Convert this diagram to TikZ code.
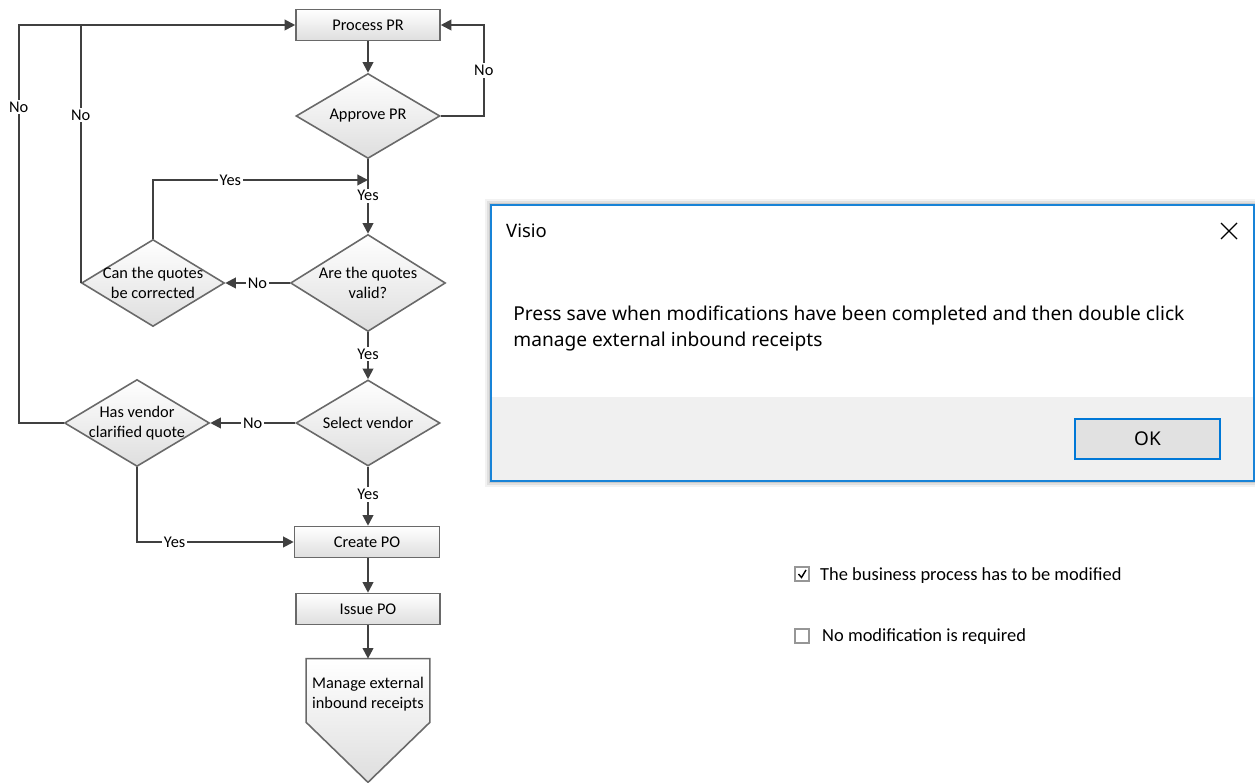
\documentclass[tikz,border=0pt]{standalone}
\usepackage{fontspec}
\setmainfont{Carlito}
\newfontfamily\dlgfont{Noto Sans}
\usetikzlibrary{shapes.geometric,arrows.meta,positioning,calc}
\definecolor{flowgray}{RGB}{64,64,64}
\definecolor{edgegray}{RGB}{105,105,105}
\definecolor{shadegray}{RGB}{222,222,222}
\definecolor{winblue}{RGB}{24,131,215}
\definecolor{btnblue}{RGB}{0,120,215}
\definecolor{panelgray}{RGB}{240,240,240}
\definecolor{btngray}{RGB}{225,225,225}
\definecolor{boxgray}{RGB}{150,150,150}

\tikzset{
  procbox/.style={rectangle, draw=edgegray, line width=0.9pt, top color=white, bottom color=shadegray,
    minimum width=2.88cm, minimum height=0.62cm, inner sep=0pt, font=\fontsize{9.3}{11.3}\selectfont},
  decision/.style={diamond, draw=edgegray, line width=0.9pt, top color=white, bottom color=shadegray,
    inner sep=-8pt, align=center, font=\fontsize{9.3}{11.3}\selectfont},
  flow/.style={draw=flowgray, line width=1.1pt, -{Triangle[length=6pt,width=6pt]}},
  link/.style={draw=flowgray, line width=1.1pt},
  lbl/.style={fill=white, inner sep=1pt, font=\fontsize{9.3}{11.3}\selectfont}
}

\begin{document}
\begin{tikzpicture}[x=0.02cm, y=-0.02cm]
    % page
    \path[use as bounding box, fill=white] (0,0) rectangle (1255,783);

    % flowchart shapes
    \node[procbox] (process) at (368,25) {Process PR};
    \node[decision, minimum width=2.88cm, minimum height=1.7cm] (approve) at (368,116) {Approve PR};
    \node[decision, minimum width=3.1cm, minimum height=1.94cm] (valid) at (368,283) {Are the quotes\\valid?};
    \node[decision, minimum width=2.86cm, minimum height=1.74cm] (correct) at (153,283) {Can the quotes\\be corrected};
    \node[decision, minimum width=2.88cm, minimum height=1.72cm] (vendor) at (368,423) {Select vendor};
    \node[decision, minimum width=2.9cm, minimum height=1.74cm] (clarify) at (137,423) {Has vendor\\clarified quote};
    \node[procbox, minimum width=2.9cm] (create) at (367,542) {Create PO};
    \node[procbox] (issue) at (368,609) {Issue PO};
    \node[rectangle, minimum width=2.46cm, minimum height=1.26cm, inner sep=0pt] (manage) at (368,690.5) {};
    \draw[edgegray, line width=0.9pt, top color=white, bottom color=shadegray]
        (manage.north west) -- (manage.north east) -- (manage.south east)
        -- ($(manage.south)+(0,60)$) -- (manage.south west) -- cycle;
    \node[align=center, font=\fontsize{9.3}{11.3}\selectfont] (managetxt) at (368,694) {Manage external\\inbound receipts};

    % connectors
    \coordinate (merge) at (368,180);
    \draw[flow] (process) -- (approve);
    \draw[flow] (approve.east) -- ++(43,0) |- node[lbl, pos=0.25] {No} (process.east);
    \draw[flow] (approve.south) -- node[lbl, pos=0.49] {Yes} (valid.north);
    \draw[flow] (correct.north) |- node[lbl, pos=0.68] {Yes} (merge);
    \draw[flow] (valid.west) -- node[lbl] {No} (correct.east);
    \draw[link] (correct.west) -- node[lbl, pos=0.65] {No} (correct.west |- process.west);
    \draw[flow] (valid.south) -- node[lbl, pos=0.46] {Yes} (vendor.north);
    \draw[flow] (vendor.west) -- node[lbl] {No} (clarify.east);
    \draw[flow] (clarify.west) -- ++(-45,0) |- node[lbl, pos=0.397] {No} (process.west);
    \draw[flow] (vendor.south) -- node[lbl, pos=0.47] {Yes} (vendor.south |- create.north);
    \draw[flow] (clarify.south) |- node[lbl, pos=0.62] {Yes} (create.west);
    \draw[flow] (create.south -| issue.north) -- (issue.north);
    \draw[flow] (issue.south) -- (manage.north);

    % message box
    \foreach \s/\o in {6/0.05,4/0.07,2/0.1} {
        \fill[black, opacity=\o] (491-\s,205-\s) rectangle (1255,481+\s);
    }
    \draw[winblue, fill=white, line width=0.8pt] (491,205) rectangle (1254,481);
    \fill[panelgray] (491.8,397) rectangle (1253.2,480.2);
    \node[anchor=west, font=\dlgfont\fontsize{10.5}{13}\selectfont] (title) at (500,231) {Visio};
    \node (closebtn) at (1229,231) {};
    \draw[black, line width=0.7pt] ($(closebtn)+(-8,-8)$) -- ($(closebtn)+(8,8)$)
        ($(closebtn)+(-8,8)$) -- ($(closebtn)+(8,-8)$);
    \node[anchor=north west, align=left, inner sep=0pt, font=\dlgfont\fontsize{10.9}{14.7}\selectfont] (msg) at (513,306)
        {Press save when modifications have been completed and then double click\\manage external inbound receipts};
    \node[draw=btnblue, fill=btngray, line width=1.3pt, minimum width=2.9cm, minimum height=0.8cm,
        font=\dlgfont\fontsize{10.8}{13}\selectfont] (okbtn) at (1147.5,439) {OK};

    % check boxes
    \node[draw=boxgray, fill=white, line width=0.6pt, minimum size=0.28cm, inner sep=0pt] (boxa) at (802,574) {};
    \draw[black, line width=0.8pt] ($(boxa)+(-3.5,0)$) -- ($(boxa)+(-0.5,3.5)$) -- ($(boxa)+(4,-4)$);
    \node[anchor=west, font=\fontsize{10.5}{12}\selectfont] (texta) at (814,576) {The business process has to be modified};
    \node[draw=boxgray, fill=white, line width=0.6pt, minimum size=0.28cm, inner sep=0pt] (boxb) at (802,636) {};
    \node[anchor=west, font=\fontsize{10.5}{12}\selectfont] (textb) at (816,637) {No modification is required};
\end{tikzpicture}
\end{document}
